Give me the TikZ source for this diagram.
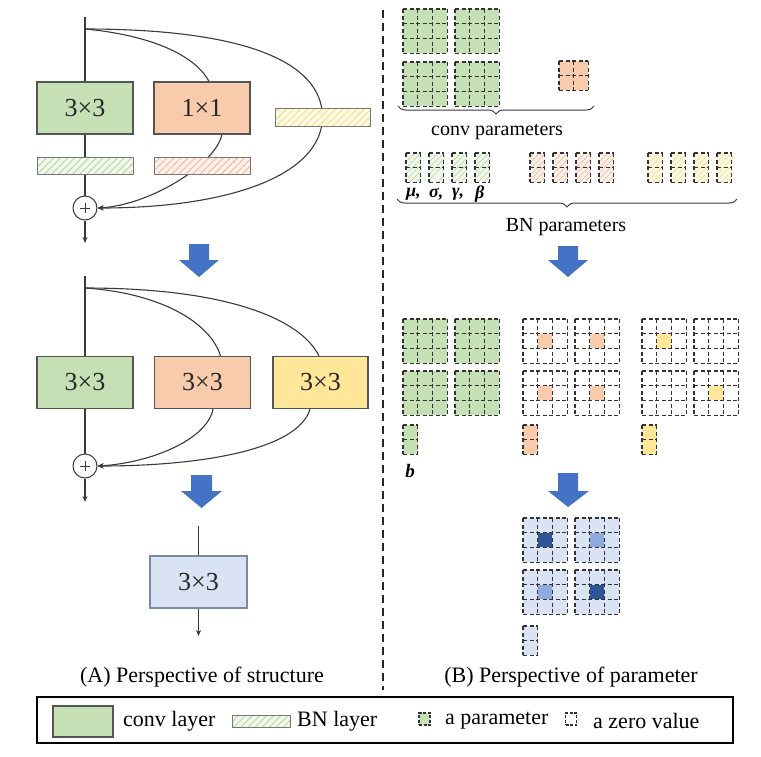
\documentclass[tikz,border=0pt]{standalone}
\usepackage{fontspec}
\setmainfont{Liberation Serif}
\usetikzlibrary{arrows.meta,patterns.meta,decorations.pathreplacing,backgrounds}
\definecolor{convG}{HTML}{C5E0B4}
\definecolor{convO}{HTML}{F8CBAD}
\definecolor{convY}{HTML}{FFE699}
\definecolor{blueL}{HTML}{DAE3F3}
\definecolor{blueD}{HTML}{2F5597}
\definecolor{blueM}{HTML}{8FAADC}
\definecolor{arrB}{HTML}{4472C4}
\definecolor{bnGf}{HTML}{F1F7EC}
\definecolor{bnGh}{HTML}{B5D69D}
\definecolor{bnOf}{HTML}{FCF0E8}
\definecolor{bnOh}{HTML}{F2B79A}
\definecolor{bnYf}{HTML}{FFFAE3}
\definecolor{bnYh}{HTML}{F5DC86}
\definecolor{lineC}{HTML}{3A3A3A}
\definecolor{boxC}{HTML}{555555}
\definecolor{s3C}{HTML}{7A8AA6}
\def\cs{14.7}
\newcommand{\kbase}[5]{\fill[#5] (#1,#2) rectangle ++({#3*\cs},{#4*\cs});}
\newcommand{\klines}[4]{%
  \foreach \kx in {0,...,#3}{\draw[kdash] ({#1+\kx*\cs},#2) -- ++(0,{#4*\cs});}%
  \foreach \ky in {0,...,#4}{\draw[kdash] (#1,{#2+\ky*\cs}) -- ++({#3*\cs},0);}%
}
\newcommand{\kgrid}[5]{\kbase{#1}{#2}{#3}{#4}{#5}\klines{#1}{#2}{#3}{#4}}
\newcommand{\kctr}[4]{\kbase{#1}{#2}{3}{3}{#3}\fill[#4] ({#1+\cs},{#2+\cs}) rectangle ++(\cs,\cs);\klines{#1}{#2}{3}{3}}
\tikzset{
  ln/.style={draw=lineC, line width=1.1pt},
  arr/.style={ln, -{Stealth[length=6pt,width=5pt]}},
  conv/.style={draw=boxC, line width=1.2pt, minimum width=96pt, minimum height=52pt, inner sep=0pt, text=black!85, font=\fontsize{26}{30}\selectfont},
  bnbox/.style={draw=boxC!80, line width=1pt, minimum width=96pt, minimum height=17pt, inner sep=0pt},
  hG/.style={preaction={fill=bnGf}, pattern={Lines[angle=45,distance=5pt,line width=0.9pt]}, pattern color=bnGh},
  hO/.style={preaction={fill=bnOf}, pattern={Lines[angle=45,distance=5pt,line width=0.9pt]}, pattern color=bnOh},
  hY/.style={preaction={fill=bnYf}, pattern={Lines[angle=45,distance=5pt,line width=0.9pt]}, pattern color=bnYh},
  kG/.style={fill=convG}, kO/.style={fill=convO}, kY/.style={fill=convY},
  kW/.style={fill=white}, kB/.style={fill=blueL},
  kbG/.style={fill=bnGf, postaction={pattern={Lines[angle=45,distance=4pt,line width=0.8pt]}, pattern color=bnGh}},
  kbO/.style={fill=bnOf, postaction={pattern={Lines[angle=45,distance=4pt,line width=0.8pt]}, pattern color=bnOh}},
  kbY/.style={fill=bnYf, postaction={pattern={Lines[angle=45,distance=4pt,line width=0.8pt]}, pattern color=bnYh}},
  kdash/.style={draw=black!80, line width=1.2pt, dash pattern=on 4pt off 2.5pt},
  plus/.style={circle, draw=lineC, line width=1pt, minimum size=24pt, inner sep=0pt, fill=white},
  bigarr/.style={fill=arrB, draw=none},
  captxt/.style={font=\fontsize{22}{26}\selectfont, inner sep=0pt},
  ptxt/.style={font=\fontsize{20}{24}\selectfont, inner sep=0pt},
  gk/.style={font=\fontsize{18}{20}\selectfont\bfseries\itshape, inner sep=0pt, anchor=west},
  brc/.style={draw=lineC, line width=1pt, decorate, decoration={brace, mirror, amplitude=8pt}}
}
\begin{document}
\begin{tikzpicture}[x=1pt,y=-1pt]
\useasboundingbox (0,0) rectangle (761,756);

% ---------- Structure 1 ----------
\coordinate (top1) at (85,17);
\coordinate (src1) at (85,29);
\node[conv, fill=convG] (g1) at (85,108) {3×3};
\node[conv, fill=convO] (o1) at (202,108) {1×1};
\node[bnbox, hY, minimum width=95pt, minimum height=18pt] (y1) at (322.5,117) {};
\node[bnbox, hG] (gb1) at (85,165.5) {};
\node[bnbox, hO] (ob1) at (202,165.5) {};
\node[plus] (p1) at (85,208) {};
\coordinate (out1) at (85,243);
\begin{scope}[on background layer]
  \draw[ln] (top1) -- (g1.north);
  \draw[ln] (src1) .. controls (150,35) and (195,55) .. ([xshift=7pt]o1.north);
  \draw[ln] (src1) .. controls (240,29) and (322,60) .. (y1.center);
  \draw[arr] (y1.center) .. controls (322,175) and (230,208) .. (p1.east);
  \draw[arr] ([xshift=20pt]o1.south) .. controls (215,165) and (150,205) .. (p1.east);
\end{scope}
\draw[ln] (g1.south) -- (gb1.north);
\draw[ln] (gb1.south) -- (p1.north);
\draw[arr] (p1.south) -- (out1);
\draw[lineC, line width=0.8pt] ([xshift=-5pt]p1.center) -- ([xshift=5pt]p1.center);
\draw[lineC, line width=0.8pt] ([yshift=-5pt]p1.center) -- ([yshift=5pt]p1.center);

% arrow 1
\path[bigarr] (189,244) -- (209,244) -- (209,260) -- (219,260) -- (199,277) -- (179,260) -- (189,260) -- cycle;

% ---------- Structure 2 ----------
\coordinate (top2) at (85,276);
\coordinate (src2) at (85,288);
\node[conv, fill=convG] (g2) at (85,382.5) {3×3};
\node[conv, fill=convO] (o2) at (202.5,382.5) {3×3};
\node[conv, fill=convY, minimum width=95pt] (y2) at (320.5,382.5) {3×3};
\node[plus] (p2) at (85,466) {};
\coordinate (out2) at (85,502);
\draw[ln] (top2) -- (g2.north);
\draw[ln] (src2) .. controls (160,293) and (210,322) .. ([xshift=18pt]o2.north);
\draw[ln] (src2) .. controls (225,288) and (300,318) .. ([xshift=-1.5pt]y2.north);
\draw[arr] ([xshift=10.5pt]o2.south) .. controls (207,440) and (150,463) .. (p2.east);
\draw[arr] ([xshift=-10.5pt]y2.south) .. controls (298,450) and (200,466) .. (p2.east);
\draw[ln] (g2.south) -- (p2.north);
\draw[arr] (p2.south) -- (out2);
\draw[lineC, line width=0.8pt] ([xshift=-5pt]p2.center) -- ([xshift=5pt]p2.center);
\draw[lineC, line width=0.8pt] ([yshift=-5pt]p2.center) -- ([yshift=5pt]p2.center);

% arrow 2
\path[bigarr] (191,475) -- (212,475) -- (212,491) -- (222,491) -- (201.5,508) -- (181,491) -- (191,491) -- cycle;

% ---------- Structure 3 ----------
\coordinate (top3) at (198.5,526);
\node[conv, fill=blueL, draw=s3C, minimum width=97pt] (b3) at (198.5,582) {3×3};
\coordinate (out3) at (198.5,636);
\draw[ln] (top3) -- (b3.north);
\draw[arr] (b3.south) -- (out3);

\node[captxt] (capA) at (202,677) {(A) Perspective of structure};

% ---------- divider ----------
\draw[black!85, line width=2pt, dash pattern=on 8pt off 5pt] (383,10) -- (383,690);

% ---------- Parameters: top ----------
\kgrid{403}{9}{3}{3}{kG}
\kgrid{455}{9}{3}{3}{kG}
\kgrid{403}{62}{3}{3}{kG}
\kgrid{455}{62}{3}{3}{kG}
\kgrid{559}{61}{2}{2}{kO}
\draw[brc] (398,106) -- (594,106);
\node[ptxt] (convp) at (497,132) {conv parameters};

% BN params
\foreach \bx in {406,429,452,475}{\kgrid{\bx}{153}{1}{2}{kbG}}
\foreach \bx in {530,553,576,599}{\kgrid{\bx}{153}{1}{2}{kbO}}
\foreach \bx in {648,671,694,717}{\kgrid{\bx}{153}{1}{2}{kbY}}
\node[gk] (mu) at (406,194) {μ,};
\node[gk] (sg) at (429,194) {σ,};
\node[gk] (gm) at (452,194) {γ,};
\node[gk] (bt) at (475,194) {β};
\draw[brc] (397,199) -- (737,199);
\node[ptxt] (bnp) at (566,227) {BN parameters};

% arrow 3
\path[bigarr] (558,246) -- (578,246) -- (578,260) -- (588,260) -- (568,277) -- (548,260) -- (558,260) -- cycle;

% ---------- Parameters: middle ----------
\kgrid{403}{319}{3}{3}{kG}
\kgrid{455}{319}{3}{3}{kG}
\kgrid{403}{371}{3}{3}{kG}
\kgrid{455}{371}{3}{3}{kG}
\kctr{523}{319}{kW}{convO}
\kctr{575}{319}{kW}{convO}
\kctr{523}{371}{kW}{convO}
\kctr{575}{371}{kW}{convO}
\kctr{642}{319}{kW}{convY}
\kgrid{694}{319}{3}{3}{kW}
\kgrid{642}{371}{3}{3}{kW}
\kctr{694}{371}{kW}{convY}
\kgrid{403}{425}{1}{2}{kG}
\kgrid{523}{425}{1}{2}{kO}
\kgrid{642}{425}{1}{2}{kY}
\node[font=\fontsize{19}{20}\selectfont\bfseries\itshape, inner sep=0pt] (bl) at (410,471) {b};

% arrow 4
\path[bigarr] (558,473) -- (578,473) -- (578,491) -- (589,491) -- (568,507) -- (548,491) -- (558,491) -- cycle;

% ---------- Parameters: bottom ----------
\kctr{523}{518}{kB}{blueD}
\kctr{575}{518}{kB}{blueM}
\kctr{523}{570}{kB}{blueM}
\kctr{575}{570}{kB}{blueD}
\kgrid{523}{626}{1}{2}{kB}

\node[captxt] (capB) at (571,677) {(B) Perspective of parameter};

% ---------- Legend ----------
\node[draw=black, line width=2pt, minimum width=696pt, minimum height=46pt, inner sep=0pt] (leg) at (385,720) {};
\node[draw=boxC, line width=1.2pt, fill=convG, minimum width=60pt, minimum height=31pt, inner sep=0pt] (lg1) at (83,721.5) {};
\node[captxt, anchor=west] (lt1) at (123,721) {conv layer};
\node[draw=boxC!80, line width=1pt, hG, minimum width=58pt, minimum height=12pt, inner sep=0pt] (lg2) at (261,721) {};
\node[captxt, anchor=west] (lt2) at (297,721) {BN layer};
\node[draw=black!80, line width=1.1pt, dash pattern=on 3pt off 1.5pt, fill=convG, minimum width=11pt, minimum height=12pt, inner sep=0pt] (lg3) at (424.5,719) {};
\node[captxt, anchor=west] (lt3) at (445,721) {a parameter};
\node[draw=black!80, line width=1.1pt, dash pattern=on 3pt off 1.5pt, fill=white, minimum width=11pt, minimum height=12pt, inner sep=0pt] (lg4) at (571,719) {};
\node[captxt, anchor=west] (lt4) at (593,721) {a zero value};
\end{tikzpicture}
\end{document}
